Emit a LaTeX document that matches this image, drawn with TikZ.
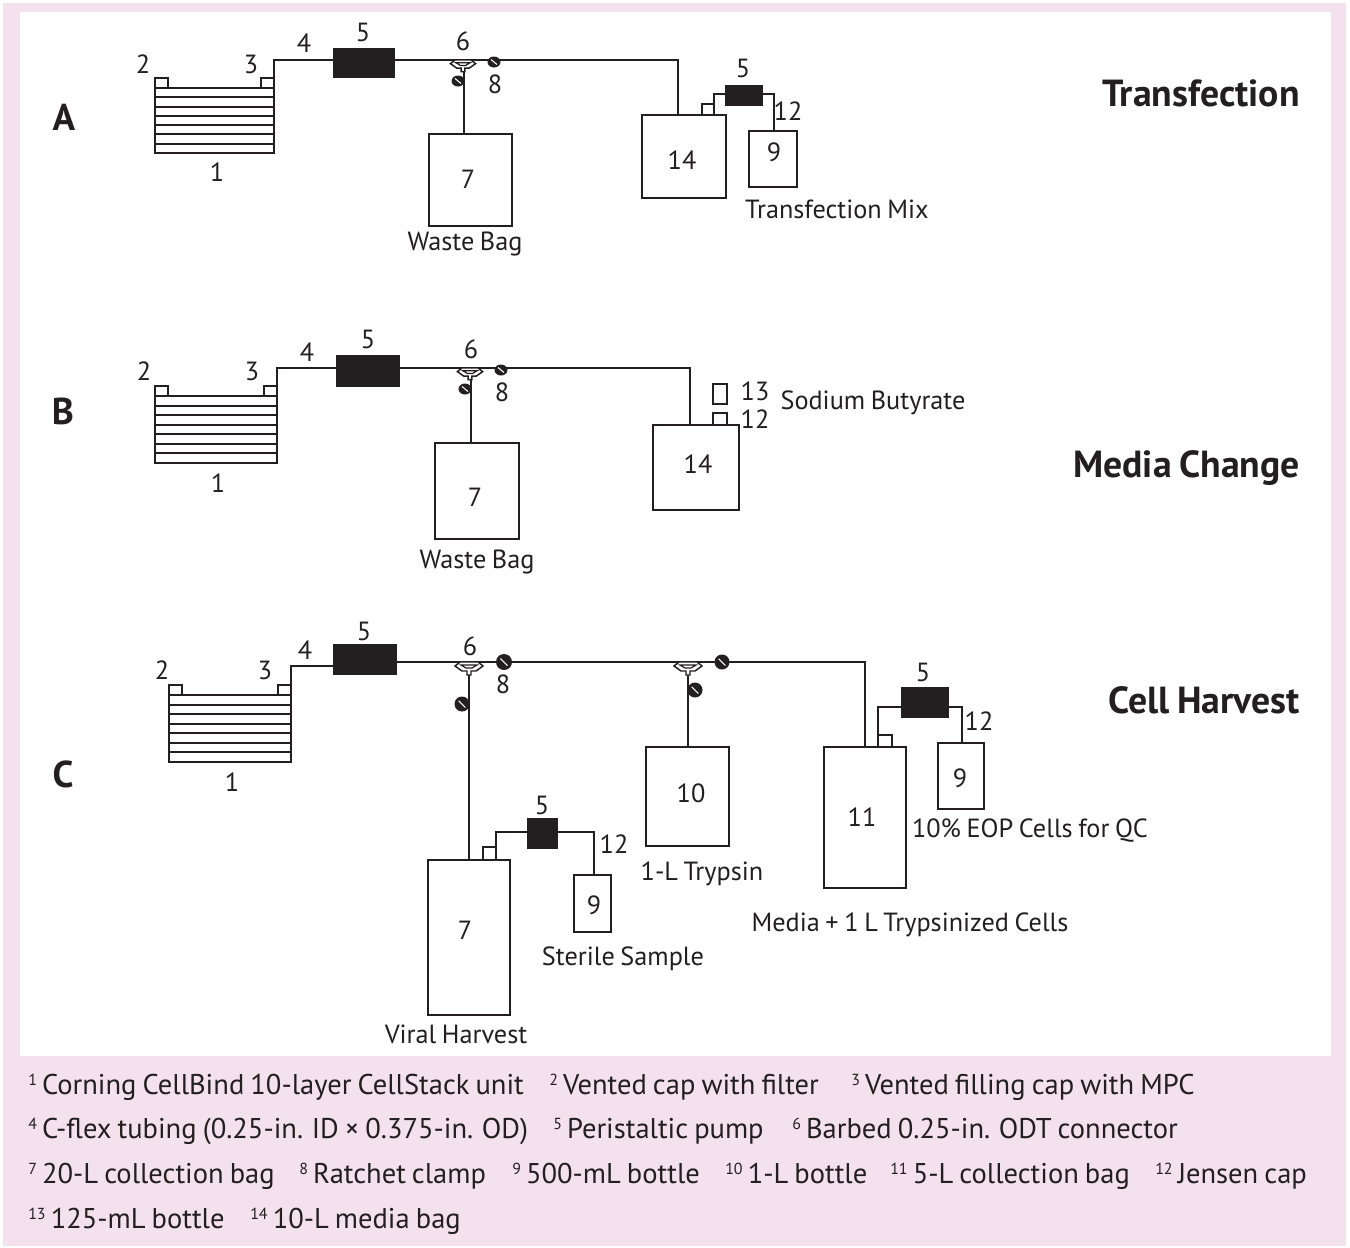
\documentclass[tikz,border=0pt]{standalone}
\usepackage{fontspec}
\setmainfont[WordSpace=0.8]{PT Sans}
\usetikzlibrary{fit}
\definecolor{ink}{HTML}{231F20}
\definecolor{panel}{HTML}{F3E1ED}
\newcommand{\lblfont}{\fontsize{19.7}{24}\selectfont}
\newcommand{\notefont}{\fontsize{21.4}{24}\selectfont}
\newcommand{\titlefont}{\fontsize{28.3}{32}\selectfont\bfseries}
\newcommand{\sn}[1]{\raisebox{6.6pt}{\fontsize{12}{12}\selectfont #1}\hspace{3.8pt}}
\tikzset{
  line/.style={draw=ink,line width=1.5pt,line join=miter},
  boxn/.style={line,inner sep=0pt,outer sep=0pt,fill=white},
  pumpn/.style={draw=ink,fill=ink,inner sep=0pt,outer sep=0pt,line width=.5pt},
  lbl/.style={anchor=base,inner sep=0pt,text=ink,font=\lblfont},
  note/.style={anchor=base west,inner sep=0pt,text=ink,font=\notefont},
  ttl/.style={anchor=base east,inner sep=0pt,text=ink,font=\titlefont},
  letter/.style={anchor=base,inner sep=0pt,text=ink,font=\fontsize{28}{32}\selectfont\bfseries},
}
\newcommand{\bx}[6][boxn]{\node[#1,fit={(#3,#4)(#5,#6)}] (#2) {};}
\newcommand{\clampm}[4]{%
  \fill[ink] (#1,#2) ellipse [x radius=#3,y radius=#4];
  \draw[white,line width=.8pt] (#1-.45*#3,#2-.45*#4) -- (#1+.45*#3,#2+.45*#4);}
\newcommand{\tconn}[3]{%
  \begin{scope}[shift={(#1,#2)},scale=#3]
  \draw[draw=ink,fill=white,line width=1.1pt,line join=miter] (-9,0) -- (-14,4) -- (-7,9) -- (-2,9) -- (-2,13) -- (2,13) -- (2,9) -- (7,9) -- (14,4) -- (9,0) -- cycle;
  \draw[draw=ink,fill=white,line width=.9pt] (-8,3) -- (8,3) -- (3,6) -- (-3,6) -- cycle;
  \end{scope}}
\newcommand{\stack}[7]{%
  \bx{#1s}{#2}{#4}{#3}{#5}
  \bx{#1l}{#2}{#4-#7}{#2+#6}{#4}
  \bx{#1r}{#3-#6}{#4-#7}{#3}{#4}
  \foreach \i in {1,...,6} {\draw[line] (#2,{#4+(#5-#4)*\i/7}) -- (#3,{#4+(#5-#4)*\i/7});}}
\newcommand{\tx}[4][lbl]{\node[#1] at (#2,#3) {#4};}
\begin{document}
\begin{tikzpicture}[x=.75pt,y=-.75pt]
\useasboundingbox (0,0) rectangle (1350,1247);
\fill[panel] (3,3) rectangle (1346,1246);
\fill[white] (20,12) rectangle (1331,1056);

%% ---------- A ----------
\stack{a}{155}{274}{88}{153}{13}{10}
\bx[pumpn]{apump}{333}{48}{394}{77}
\bx{abag}{429}{134}{512}{226}
\bx{amedia}{642}{115}{726}{198}
\bx{acap}{702}{104}{714}{115}
\bx[pumpn]{apumpb}{725}{85}{762}{105}
\bx{abot}{749}{131}{797}{187}
\coordinate (atop) at (274,60);
\coordinate (ajoin) at (464,60);
\coordinate (aend) at (678,60);
\coordinate (aup) at (714,94);
\coordinate (aturn) at (774,94);
\draw[line] (ar.north east) -- (atop) -- (apump.west|-atop);
\draw[line] (apump.east|-atop) -- (aend) -- (aend|-amedia.north);
\draw[line] (ajoin) -- (ajoin|-abag.north);
\draw[line] (acap.north east) -- (aup) -- (apumpb.west|-aup);
\draw[line] (apumpb.east|-aturn) -- (aturn) -- (aturn|-abot.north);
\tconn{463}{60}{.9}
\clampm{494}{62}{6.5}{5.5}
\clampm{458}{81}{6.5}{5.5}
\tx{143}{73}{2}\tx{251}{73}{3}\tx{217}{181}{1}\tx{304}{52}{4}\tx{363}{41}{5}
\tx{463}{50}{6}\tx{495}{93}{8}\tx{468}{188}{7}\tx{465}{250}{Waste Bag}
\tx{682}{169}{14}\tx{743}{77}{5}\tx{788}{120}{12}\tx{774}{161}{9}
\tx{837}{218}{Transfection Mix}
\tx[ttl]{1300}{106}{Transfection}
\tx[letter]{64}{130}{A}

%% ---------- B ----------
\stack{b}{155}{277}{396}{463}{13}{10}
\bx[pumpn]{bpump}{336}{355}{399}{386}
\bx{bbag}{435}{443}{519}{539}
\bx{bmedia}{653}{425}{739}{510}
\bx{bcap}{713}{413}{727}{425}
\bx{bbot}{713}{384}{727}{404}
\coordinate (btop) at (277,368);
\coordinate (bjoin) at (471,368);
\coordinate (bend) at (690,368);
\draw[line] (br.north east) -- (btop) -- (bpump.west|-btop);
\draw[line] (bpump.east|-btop) -- (bend) -- (bend|-bmedia.north);
\draw[line] (bjoin) -- (bjoin|-bbag.north);
\tconn{470}{368}{.9}
\clampm{501}{370}{6.5}{5.5}
\clampm{465}{389}{6.5}{5.5}
\tx{144}{380}{2}\tx{252}{380}{3}\tx{218}{492}{1}\tx{307}{361}{4}\tx{368}{348}{5}
\tx{471}{358}{6}\tx{502}{401}{8}\tx{475}{506}{7}\tx{477}{568}{Waste Bag}
\tx{698}{473}{14}\tx{755}{400}{13}\tx{755}{428}{12}
\tx{873}{409}{Sodium Butyrate}
\tx[ttl]{1300}{477}{Media Change}
\tx[letter]{63}{424}{B}

%% ---------- C ----------
\stack{c}{169}{291}{695}{762}{13}{10}
\bx[pumpn]{cpump}{333}{644}{396}{674}
\bx{cbag}{428}{860}{510}{1015}
\bx{ccap}{483}{847}{496}{860}
\bx[pumpn]{cpumpb}{527}{818}{557}{848}
\bx{cbot}{574}{875}{611}{932}
\bx{ctry}{646}{747}{729}{846}
\bx{cmedia}{824}{747}{906}{888}
\bx{cmcap}{878}{735}{892}{747}
\bx[pumpn]{cpumpc}{901}{687}{948}{717}
\bx{cqc}{938}{743}{984}{809}
\coordinate (ctop) at (291,666);
\coordinate (cjoin) at (469,662);
\coordinate (cjoinb) at (688,662);
\coordinate (cend) at (865,662);
\coordinate (cup) at (496,832);
\coordinate (cturn) at (594,832);
\coordinate (cupb) at (878,707);
\coordinate (cturnb) at (962,707);
\draw[line] (cr.north east) -- (ctop) -- (cpump.west|-ctop);
\draw[line] (cpump.east|-cjoin) -- (cend) -- (cend|-cmedia.north);
\draw[line] (cjoin) -- (cjoin|-cbag.north);
\draw[line] (cjoinb) -- (cjoinb|-ctry.north);
\draw[line] (ccap.north east) -- (cup) -- (cpumpb.west|-cup);
\draw[line] (cpumpb.east|-cturn) -- (cturn) -- (cturn|-cbot.north);
\draw[line] (cmcap.north west) -- (cupb) -- (cpumpc.west|-cupb);
\draw[line] (cpumpc.east|-cturnb) -- (cturnb) -- (cturnb|-cqc.north);
\tconn{469}{662}{1}
\tconn{688}{662}{1}
\clampm{504}{662}{8}{8}
\clampm{462}{704}{7.5}{7.5}
\clampm{695}{690}{7.5}{7.5}
\clampm{722}{662}{7.5}{7.5}
\tx{162}{679}{2}\tx{265}{679}{3}\tx{232}{791}{1}\tx{305}{659}{4}\tx{364}{640}{5}
\tx{470}{655}{6}\tx{503}{693}{8}\tx{465}{939}{7}\tx{456}{1043}{Viral Harvest}
\tx{542}{814}{5}\tx{614}{853}{12}\tx{594}{914}{9}\tx{623}{965}{Sterile Sample}
\tx{691}{802}{10}\tx{702}{880}{1-L Trypsin}
\tx{862}{826}{11}\tx{910}{931}{Media + 1 L Trypsinized Cells}
\tx{923}{681}{5}\tx{979}{730}{12}\tx{960}{787}{9}
\tx{1030}{837}{10\% EOP Cells for QC}
\tx[ttl]{1300}{713}{Cell Harvest}
\tx[letter]{63}{787}{C}

%% ---------- key ----------
\tx[note]{28}{1094}{\sn{1}Corning CellBind 10-layer CellStack unit}
\tx[note]{549}{1094}{\sn{2}Vented cap with filter}
\tx[note]{851}{1094}{\sn{3}Vented filling cap with MPC}
\tx[note]{28}{1138}{\sn{4}C-flex tubing (0.25-in. ID × 0.375-in. OD)}
\tx[note]{553}{1138}{\sn{5}Peristaltic pump}
\tx[note]{792}{1138}{\sn{6}Barbed 0.25-in. ODT connector}
\tx[note]{28}{1183}{\sn{7}20-L collection bag}
\tx[note]{299}{1183}{\sn{8}Ratchet clamp}
\tx[note]{512}{1183}{\sn{9}500-mL bottle}
\tx[note]{725}{1183}{\sn{10}1-L bottle}
\tx[note]{890}{1183}{\sn{11}5-L collection bag}
\tx[note]{1155}{1183}{\sn{12}Jensen cap}
\tx[note]{28}{1228}{\sn{13}125-mL bottle}
\tx[note]{250}{1228}{\sn{14}10-L media bag}
\end{tikzpicture}
\end{document}
